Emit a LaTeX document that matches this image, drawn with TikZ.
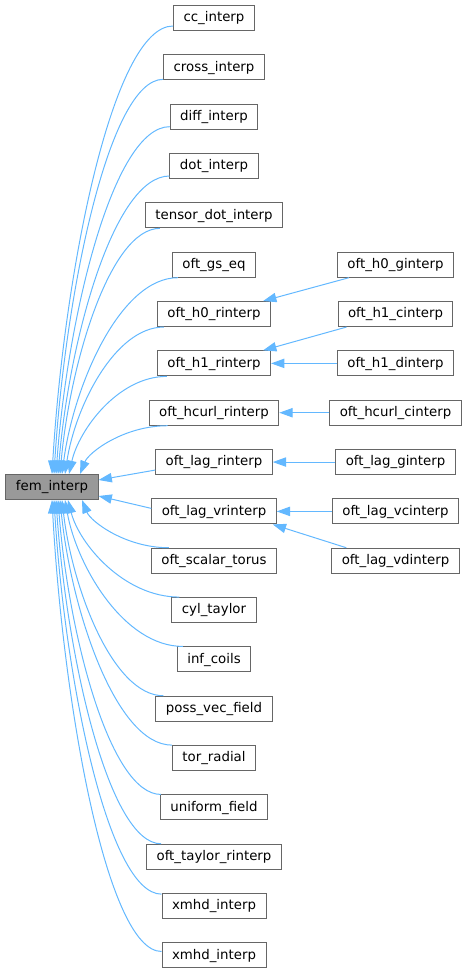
\documentclass[tikz,border=0pt]{standalone}
\usepackage{fontspec}
\setmainfont{DejaVu Sans}
\usetikzlibrary{arrows.meta,calc}
\definecolor{edgeblue}{HTML}{63B8FF}
\definecolor{boxgray}{HTML}{666666}
\definecolor{femfill}{HTML}{999999}
\begin{document}
\begin{tikzpicture}[x=0.75pt,y=-0.75pt,
  cls/.style={draw=boxgray, line width=0.75pt, fill=white,
    font=\fontsize{10}{12}\selectfont, inner xsep=7.5pt, inner ysep=0pt,
    minimum height=18.75pt, text height=7.5pt, text depth=2pt},
  edge/.style={draw=edgeblue, line width=0.75pt,
    -{Triangle[length=10pt,width=7pt,color=edgeblue]}}]
\useasboundingbox (0,0) rectangle (467,973);

\node[cls, fill=femfill] (fem) at (52,487) {fem\_interp};

\foreach \i/\t in {0/cc\_interp, 1/cross\_interp, 2/diff\_interp, 3/dot\_interp,
  4/tensor\_dot\_interp, 5/oft\_gs\_eq, 6/oft\_h0\_rinterp, 7/oft\_h1\_rinterp,
  8/oft\_hcurl\_rinterp, 9/oft\_lag\_rinterp, 10/oft\_lag\_vrinterp,
  11/oft\_scalar\_torus, 12/cyl\_taylor, 13/inf\_coils, 14/poss\_vec\_field,
  15/tor\_radial, 16/uniform\_field, 17/oft\_taylor\_rinterp, 18/xmhd\_interp,
  19/xmhd\_interp}
  \node[cls] (c\i) at (214,{18+49.34*\i}) {\t};

\foreach \i/\row/\t in {0/5/oft\_h0\_ginterp, 1/6/oft\_h1\_cinterp,
  2/7/oft\_h1\_dinterp, 3/8/oft\_hcurl\_cinterp, 4/9/oft\_lag\_ginterp,
  5/10/oft\_lag\_vcinterp, 6/11/oft\_lag\_vdinterp}
  \node[cls] (r\i) at (395.5,{18+49.34*\row}) {\t};

% curved edges into the top of fem_interp
\foreach \i/\an/\dx/\dy/\tx in {0/south west/0/-5/52, 1/south west/0/-1/54,
  2/south west/0/-3/56, 3/south west/0/-3/58, 4/south west/15/0/60,
  5/south west/6/0/62, 6/south west/7/0/65, 7/south west/10/0/69,
  8/south west/19/0/80}{
  \coordinate (a) at ($(c\i.\an)+(\dx,\dy)$);
  \coordinate (t) at ($(fem.north)+(\tx-52,0)$);
  \coordinate (k1) at ($(a)!0.5!(a -| t)$);
  \coordinate (p) at ($(t)!0.1!(a)$);
  \coordinate (q) at ($(t)!0.45!(a)$);
  \draw[edge] (a) .. controls (k1) and (p |- q) .. (t);
}
% curved edges into the bottom of fem_interp
\foreach \i/\an/\dx/\dy/\tx in {11/north west/18/0/82, 12/north west/8/0/68,
  13/north west/6/0/65, 14/north west/8/0/62, 15/north west/0/0/60,
  16/north west/1/0/58, 17/north west/15/0/56, 18/north west/0/1/54,
  19/west/0/-4/52}{
  \coordinate (a) at ($(c\i.\an)+(\dx,\dy)$);
  \coordinate (t) at ($(fem.south)+(\tx-52,0)$);
  \coordinate (k1) at ($(a)!0.5!(a -| t)$);
  \coordinate (p) at ($(t)!0.1!(a)$);
  \coordinate (q) at ($(t)!0.45!(a)$);
  \draw[edge] (a) .. controls (k1) and (p |- q) .. (t);
}
% straight edges into the right side
\draw[edge] ($(c9.west)+(0,8)$) -- ($(fem.east)+(0,-7)$);
\draw[edge] ($(c10.west)+(0,-3)$) -- ($(fem.east)+(0,9)$);

% right column edges
\draw[edge] ($(r0.south west)+(12,0)$) -- ($(c6.north east)+(-8,0)$);
\draw[edge] ($(r1.south west)+(9,0)$) -- ($(c7.north east)+(-8,0)$);
\draw[edge] (r2.west) -- (c7.east);
\draw[edge] (r3.west) -- (c8.east);
\draw[edge] (r4.west) -- (c9.east);
\draw[edge] (r5.west) -- (c10.east);
\draw[edge] ($(r6.north west)+(15,0)$) -- ($(c10.south east)+(-4,0)$);
\end{tikzpicture}
\end{document}
